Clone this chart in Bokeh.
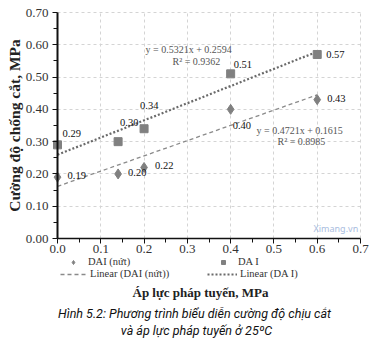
import math
from bokeh.plotting import figure
from bokeh.models import (ColumnDataSource, Range1d, FixedTicker, NumeralTickFormatter,
                          Label, Legend, LegendItem, LinearAxis, Grid)
from bokeh.core.properties import value
from bokeh.embed import file_html
from bokeh.resources import INLINE

# ---- data ----
pressure = [0.0, 0.14, 0.2, 0.4, 0.6]
dai_nut = [0.19, 0.20, 0.22, 0.40, 0.43]
da_i = [0.29, 0.30, 0.34, 0.51, 0.57]
dai_nut_labels = ["0.19", "0.20", "0.22", "0.40", "0.43"]
da_i_labels = ["0.29", "0.30", "0.34", "0.51", "0.57"]

# trend lines as stated on the chart
fit_nut_slope, fit_nut_icpt = 0.4721, 0.1615
fit_dai_slope, fit_dai_icpt = 0.5321, 0.2594
fit_x = [0.0, 0.6]

x_ticks = [0.0, 0.1, 0.2, 0.3, 0.4, 0.5, 0.6, 0.7]
y_ticks = [0.0, 0.1, 0.2, 0.3, 0.4, 0.5, 0.6, 0.7]
minor = [0.05, 0.15, 0.25, 0.35, 0.45, 0.55, 0.65]

eq_dai = ["y = 0.5321x  + 0.2594", "R\u00b2 = 0.9362"]
eq_nut = ["y = 0.4721x  + 0.1615", "R\u00b2 = 0.8985"]

legend_labels = ["DAI (n\u1ee9t)", "DA I", "Linear (DAI (n\u1ee9t))", "Linear (DA I)"]
x_title = "\u00c1p l\u1ef1c ph\u00e1p tuy\u1ebfn, MPa"
y_title = "C\u01b0\u1eddng \u0111\u1ed9 ch\u1ed1ng c\u1eaft, MPa"
caption1 = "H\u00ecnh 5.2: Ph\u01b0\u01a1ng tr\u00ecnh bi\u1ec3u di\u1ec5n c\u01b0\u1eddng \u0111\u1ed9 ch\u1ecbu c\u1eaft"
caption2 = "v\u00e0 \u00e1p l\u1ef1c ph\u00e1p tuy\u1ebfn \u1edf 25\u00baC"

# ---- layout / styles ----
W, H = 373, 339
X0_PX, X1_PX = 57, 360      # pixel columns of x = 0 and x = 0.7
Y0_PX, Y1_PX = 238, 12      # pixel rows of y = 0 and y = 0.7
XMAX = YMAX = 0.7
sx = (X1_PX - X0_PX) / XMAX
sy = (Y0_PX - Y1_PX) / YMAX

def dx(px):
    return (px - X0_PX) / sx

def dy(py):
    return (Y0_PX - py) / sy

SERIF = "Liberation Serif"
CAP_FONT = "Roboto"
marker_col = "#808080"
nut_style = dict(line_color="#8a8a8a", line_width=1.3, line_dash="4 3")
dai_style = dict(line_color="#6a6a6a", line_width=2.2, line_dash="2 2")
nut_dx = [10, 10, 11, 2, 10]
nut_dy = [-2, -1, -2, 16, -1]
dai_dx = [5, 2, -4, 3, 9]
dai_dy = [-11, -19, -23, -9, 0]

p = figure(width=W, height=H, output_backend="svg", toolbar_location=None,
           x_range=Range1d(dx(0), dx(W)), y_range=Range1d(dy(H), dy(0)),
           x_axis_location=None, y_axis_location=None,
           min_border_left=0, min_border_right=0, min_border_top=0, min_border_bottom=0)
p.outline_line_color = None
p.background_fill_color = "white"
p.border_fill_color = "white"
p.xgrid.visible = False
p.ygrid.visible = False

# grid limited to the plotting box
for dim, ticks in ((0, x_ticks), (1, y_ticks)):
    g = Grid(dimension=dim, ticker=FixedTicker(ticks=ticks), bounds=(0, XMAX),
             cross_bounds=(0, YMAX), grid_line_color="#d4d4d4", grid_line_dash="3 3",
             grid_line_width=1)
    p.add_layout(g)

# axes placed at the data origin
xaxis = LinearAxis(fixed_location=0, bounds=(0, XMAX),
                   ticker=FixedTicker(ticks=x_ticks, minor_ticks=minor),
                   formatter=NumeralTickFormatter(format="0.0"))
yaxis = LinearAxis(fixed_location=0, bounds=(0, YMAX),
                   ticker=FixedTicker(ticks=y_ticks, minor_ticks=minor),
                   formatter=NumeralTickFormatter(format="0.00"))
for ax in (xaxis, yaxis):
    ax.axis_line_color = "#111111"
    ax.major_tick_line_color = "#111111"
    ax.minor_tick_line_color = "#111111"
    ax.major_tick_in = 0
    ax.minor_tick_in = 0
    ax.major_tick_out = 5
    ax.minor_tick_out = 4
    ax.major_label_text_font = SERIF
    ax.major_label_text_font_size = "13px"
    ax.major_label_text_color = "#333333"
xaxis.axis_line_width = 1.5
yaxis.axis_line_width = 2
xaxis.major_label_standoff = 1
yaxis.major_label_standoff = 4
p.add_layout(xaxis, "below")
p.add_layout(yaxis, "left")

# trend lines
src_fit = ColumnDataSource(dict(
    x=fit_x,
    y_nut=[fit_nut_icpt + fit_nut_slope * v for v in fit_x],
    y_dai=[fit_dai_icpt + fit_dai_slope * v for v in fit_x]))
r_lnut = p.line("x", "y_nut", source=src_fit, **nut_style)
r_ldai = p.line("x", "y_dai", source=src_fit, **dai_style)

src = ColumnDataSource(dict(x=pressure, nut=dai_nut, dai=da_i,
                            nut_lab=dai_nut_labels, dai_lab=da_i_labels,
                            nut_dx=nut_dx, nut_dy=nut_dy, dai_dx=dai_dx, dai_dy=dai_dy))
r_nut = p.scatter("x", "nut", source=src, marker="diamond", size=10,
                  fill_color=marker_col, line_color=marker_col)
r_dai = p.scatter("x", "dai", source=src, marker="square", size=8,
                  fill_color=marker_col, line_color=marker_col)

p.text("x", "nut", text="nut_lab", source=src, x_offset="nut_dx", y_offset="nut_dy",
       text_font=value(SERIF), text_font_size="10.5px", text_color="#111111",
       text_align="left", text_baseline="middle")
p.text("x", "dai", text="dai_lab", source=src, x_offset="dai_dx", y_offset="dai_dy",
       text_font=value(SERIF), text_font_size="10.5px", text_color="#111111",
       text_align="left", text_baseline="middle")

# equations
for txt, px, py in ((eq_dai[0], 145, 49), (eq_dai[1], 172, 61),
                    (eq_nut[0], 256, 130), (eq_nut[1], 277, 141)):
    p.add_layout(Label(x=dx(px), y=dy(py), text=txt, text_font=SERIF, text_font_size="10px",
                       text_color="#555555", text_align="left", text_baseline="middle"))

# watermark
p.add_layout(Label(x=dx(313), y=dy(228), text="Ximang.vn", text_font="Noto Sans",
                   text_font_size="9px", text_color="#a9bde0", text_align="left",
                   text_baseline="middle"))

# y axis title
p.add_layout(Label(x=dx(14), y=dy(125), text=y_title, angle=math.pi / 2,
                   text_font=SERIF, text_font_style="bold", text_font_size="15.5px",
                   text_color="#222222", text_align="center", text_baseline="middle"))

# legend entries (screen offsets from the bottom-left of the page)
def make_legend(label, renderer, loc, gw, standoff):
    lg = Legend(items=[LegendItem(label=label, renderers=[renderer])], location=loc,
                orientation="horizontal", glyph_width=gw, glyph_height=10,
                label_height=10, label_standoff=standoff, padding=0, margin=0,
                spacing=0, border_line_color=None, background_fill_alpha=0,
                label_text_font=SERIF, label_text_font_size="10.5px",
                label_text_color="#333333")
    p.add_layout(lg)

make_legend(legend_labels[0], r_nut, (68, H - 267), 10, 10)
make_legend(legend_labels[1], r_dai, (218, H - 267), 10, 10)
make_legend(legend_labels[2], r_lnut, (60, H - 279), 27, 3)
make_legend(legend_labels[3], r_ldai, (207, H - 279), 30, 3)

# x title and caption
p.add_layout(Label(x=dx(200), y=dy(292), text=x_title, text_font=SERIF,
                   text_font_style="bold", text_font_size="13px", text_color="#222222",
                   text_align="center", text_baseline="middle"))
p.add_layout(Label(x=dx(194), y=dy(313), text=caption1, text_font=CAP_FONT,
                   text_font_style="italic", text_font_size="12.5px", text_color="#111111",
                   text_align="center", text_baseline="middle"))
p.add_layout(Label(x=dx(196), y=dy(330), text=caption2, text_font=CAP_FONT,
                   text_font_style="italic", text_font_size="12.5px", text_color="#111111",
                   text_align="center", text_baseline="middle"))

open("out.html", "w").write(file_html(p, INLINE))
